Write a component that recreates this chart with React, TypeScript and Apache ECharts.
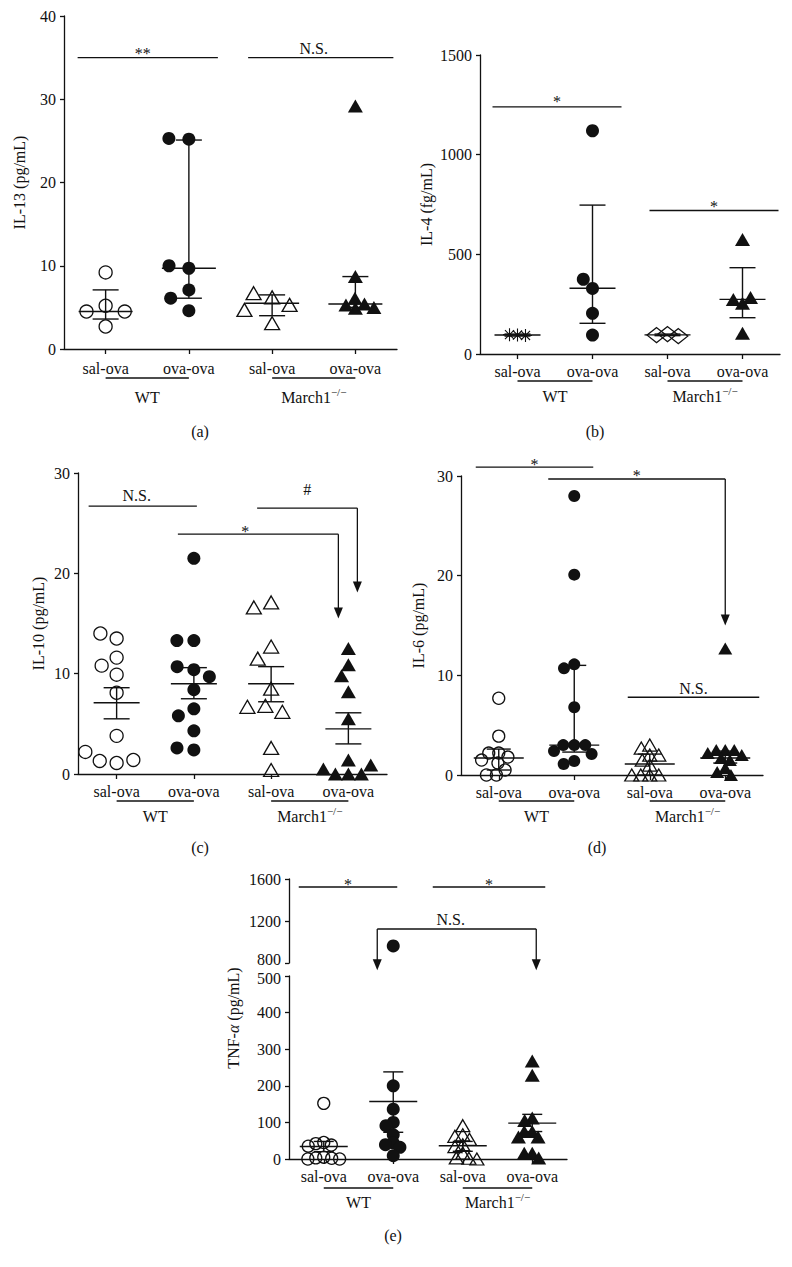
import React, { useEffect, useRef } from "react";
import * as echarts from "echarts";

const INK = "#111111";
const FONT = "'Liberation Serif', 'Times New Roman', serif";
const FS = 16;

const groupLabels = ["sal-ova", "ova-ova", "sal-ova", "ova-ova"];
const wtLabel = "WT";
const koLabel = "March1";
const koSup = "\u2212/\u2212";

// (a) IL-13 (pg/mL)
const il13Ticks = [0, 10, 20, 30, 40];
const il13WtSal = [5.2, 4.5, 4.5, 2.7, 9.2];
const il13WtOva = [25.2, 25.3, 9.7, 10.0, 7.1, 6.1, 4.6];
const il13KoSal = [6.2, 6.7, 5.3, 4.7, 3.1];
const il13KoOva = [29.2, 8.7, 4.9, 6.1, 5.3, 5.4, 5.0];
const il13Mid = [4.5, 9.7, 5.5, 5.4];
const il13Low = [3.6, 6.1, 4.0, 5.0];
const il13High = [7.1, 25.1, 6.5, 8.7];

// (b) IL-4 (fg/mL)
const il4Ticks = [0, 500, 1000, 1500];
const il4WtSal = [95, 97, 93];
const il4WtOva = [1120, 329, 375, 204, 95];
const il4KoSal = [100, 95, 90];
const il4KoOva = [575, 254, 274, 284, 104];
const il4Mid = [95, 330, 96, 274];
const il4Low = [90, 154, 92, 182];
const il4High = [100, 747, 100, 433];

// (c) IL-10 (pg/mL)
const il10Ticks = [0, 10, 20, 30];
const il10WtSal = [13.5, 14.0, 11.6, 10.8, 9.9, 8.1, 3.8, 1.1, 1.3, 1.4, 2.2];
const il10WtOva = [21.5, 13.3, 13.3, 10.4, 10.7, 9.7, 8.4, 6.5, 5.8, 4.3, 2.4, 2.6];
const il10KoSal = [17.1, 16.6, 12.7, 11.5, 8.5, 6.8, 6.2, 6.7, 2.6, 0.4];
const il10KoOva = [12.5, 10.9, 9.8, 8.2, 5.5, 0, 0, 0, 0.5, 0.9, 1.4];
const il10Mid = [7.1, 9.0, 9.0, 4.5];
const il10Low = [5.5, 7.5, 7.2, 3.0];
const il10High = [8.6, 10.6, 10.7, 6.1];

// (d) IL-6 (pg/mL)
const il6Ticks = [0, 10, 20, 30];
const il6WtSal = [7.7, 3.9, 2.2, 2.2, 1.8, 1.5, 1.2, 0.5, 0, 0];
const il6WtOva = [28.0, 20.1, 11.1, 10.7, 6.8, 3.0, 3.0, 3.0, 2.4, 2.1, 1.4, 1.1];
const il6KoSal = [3.0, 2.7, 2.0, 2.0, 1.5, 1.0, 0, 0, 0, 0];
const il6KoOva = [12.7, 2.5, 2.5, 2.5, 2.2, 2.0, 1.7, 1.5, 0.7, 0.3, 0];
const il6Mid = [1.7, 3.0, 1.1, 1.7];
const il6Low = [0.5, 2.3, 0.0, 1.2];
const il6High = [2.6, 11.0, 2.1, 2.4];

// (e) TNF-alpha (pg/mL), broken axis
const tnfTicksLow = [0, 100, 200, 300, 400, 500];
const tnfTicksHigh = [800, 1200, 1600];
const tnfWtSal = [152, 45, 42, 38, 35, 5, 3, 2, 0, 0];
const tnfWtOva = [962, 200, 136, 100, 91, 66, 44, 39, 32, 9];
const tnfKoSal = [91, 66, 62, 54, 39, 34, 16, 3, 2, 0];
const tnfKoOva = [268, 229, 112, 105, 75, 75, 60, 60, 16, 16, 3];
const tnfMid = [34, 157, 36, 98];
const tnfLow = [20, 73, 21, 75];
const tnfHigh = [48, 238, 48, 122];

// significance annotations (category indices, value on the y axis, text)
const il13Sig = [
  { from: 0, to: 1, y: 35, label: "**" },
  { from: 2, to: 3, y: 35, label: "N.S." },
];
const il4Sig = [
  { from: 0, to: 1, y: 1240, label: "*" },
  { from: 2, to: 3, y: 720, label: "*" },
];
const il10Sig = [
  { from: 0, to: 1, y: 26.7, label: "N.S." },
  { from: 2, to: 3, y: 26.5, label: "#", tipTo: 18.1 },
  { from: 1, to: 3, y: 23.9, label: "*", tipTo: 15.5 },
];
const il6Sig = [
  { from: 0, to: 1, y: 30.9, label: "*" },
  { from: 1, to: 3, y: 29.7, label: "*", tipTo: 15.0 },
  { from: 2, to: 3, y: 7.8, label: "N.S." },
];
const tnfSig = [
  { from: 0, to: 1, y: 1524, label: "*" },
  { from: 2, to: 3, y: 1524, label: "*" },
  { from: 1, to: 3, y: 1124, label: "N.S.", tipFrom: 730, tipTo: 730 },
];

// presentation for brackets: [dx1, dx2, text gap, text dx]
const il13SigStyle = [[-28, 29, 4, -5], [-24, 38, 9, -7]];
const il4SigStyle = [[-25, 29, 5, 0], [-18, 36, 4, 0]];
const il10SigStyle = [[-28, 3, 11, -6], [-14, 9, 19, 0], [-16, -10, 3, -13]];
const il6SigStyle = [[-23, 19, 3, 0], [-26, 0, 3, 0], [-22, 34, 9, 0]];
const tnfSigStyle = [[-25, 4, 2, 0], [-30, 13, 2, 0], [-16, 4, 9, -6]];

const STAR_PATH = "path://M5 0L5 10M0 5L10 5M1.5 1.5L8.5 8.5M8.5 1.5L1.5 8.5";

function swarm(values: number[], ppu: number, D: number): number[] {
  const placed: { x: number; y: number }[] = [];
  const out: number[] = [];
  for (const v of values) {
    const y = v * ppu;
    const cands = [0];
    for (const p of placed) {
      const dy = Math.abs(p.y - y);
      if (dy < D) {
        const dx = Math.sqrt(D * D - dy * dy);
        cands.push(p.x - dx, p.x + dx);
      }
    }
    cands.sort((a, b) => Math.abs(a) - Math.abs(b) || a - b);
    let chosen = 0;
    for (const c of cands) {
      if (placed.every((p) => (p.x - c) ** 2 + (p.y - y) ** 2 >= D * D - 0.01)) {
        chosen = c;
        break;
      }
    }
    placed.push({ x: chosen, y });
    out.push(chosen);
  }
  return out;
}

function marker(kind: string, size: number): any {
  const open = { color: "rgba(0,0,0,0)", borderColor: INK, borderWidth: 1.3, opacity: 1 };
  const solid = { color: INK, borderColor: INK, borderWidth: 0, opacity: 1 };
  switch (kind) {
    case "oc":
      return { symbol: "circle", symbolSize: size, itemStyle: open };
    case "fc":
      return { symbol: "circle", symbolSize: size, itemStyle: solid };
    case "ot":
      return { symbol: "triangle", symbolSize: [size + 2, size], itemStyle: open };
    case "ft":
      return { symbol: "triangle", symbolSize: [size + 2, size], itemStyle: solid };
    case "star":
      return { symbol: STAR_PATH, symbolSize: size, itemStyle: { color: "rgba(0,0,0,0)", borderColor: INK, borderWidth: 1.1, opacity: 1 } };
    case "od":
      return { symbol: "diamond", symbolSize: [size + 6, size + 2], itemStyle: open };
  }
  return {};
}

const plain = (v: number) => String(v);

function buildOption() {
  const grid: any[] = [];
  const xAxis: any[] = [];
  const yAxis: any[] = [];
  const series: any[] = [];
  const graphic: any[] = [];

  const axisText = { color: INK, fontFamily: FONT, fontSize: FS };
  const lineSt = { color: INK, width: 1.3 };

  const addAxes = (box: any, ticks: number[], name: string, nameGap: number, showX: boolean, xMargin: number, yLabel?: any) => {
    const gi = grid.length;
    grid.push({ left: box.left, top: box.top, width: box.width, height: box.height, containLabel: false });
    xAxis.push({
      gridIndex: gi,
      type: "category",
      data: groupLabels,
      show: showX,
      boundaryGap: true,
      axisLine: { show: true, onZero: false, lineStyle: lineSt },
      axisTick: { show: true, alignWithLabel: true, length: 5, lineStyle: lineSt },
      axisLabel: { ...axisText, margin: xMargin, interval: 0 },
      splitLine: { show: false },
    });
    yAxis.push({
      gridIndex: gi,
      type: "value",
      min: ticks[0],
      max: ticks[ticks.length - 1],
      interval: ticks[1] - ticks[0],
      name,
      nameLocation: "middle",
      nameGap,
      nameTextStyle: axisText,
      axisLine: { show: true, lineStyle: lineSt },
      axisTick: { show: true, length: 4, lineStyle: lineSt },
      axisLabel: { ...axisText, margin: 8, formatter: plain, ...(yLabel || {}) },
      splitLine: { show: false },
    });
    return gi;
  };

  const addScatter = (gi: number, cat: number, values: number[], kind: string, size: number, ppu: number, D: number) => {
    const offs = swarm(values, ppu, D);
    series.push({
      type: "scatter",
      xAxisIndex: gi,
      yAxisIndex: gi,
      silent: true,
      emphasis: { disabled: true },
      z: 4,
      ...marker(kind, size),
      data: values.map((v, k) => ({ value: [cat, v], symbolOffset: [offs[k], 0] })),
    });
  };

  const addBars = (gi: number, mid: number[], low: number[], high: number[], W: number, C: number) => {
    series.push({
      type: "custom",
      xAxisIndex: gi,
      yAxisIndex: gi,
      clip: false,
      silent: true,
      z: 3,
      itemStyle: { color: INK },
      data: mid.map((m, i) => [i, m, low[i], high[i]]),
      renderItem: (params: any, api: any) => {
        const i = api.value(0);
        const pc = api.coord([i, api.value(1)]);
        const pl = api.coord([i, api.value(2)]);
        const ph = api.coord([i, api.value(3)]);
        const x = pc[0];
        const st = { stroke: INK, lineWidth: 1.4 };
        return {
          type: "group",
          children: [
            { type: "line", shape: { x1: x - W, y1: pc[1], x2: x + W, y2: pc[1] }, style: st },
            { type: "line", shape: { x1: x, y1: pl[1], x2: x, y2: ph[1] }, style: st },
            { type: "line", shape: { x1: x - C, y1: pl[1], x2: x + C, y2: pl[1] }, style: st },
            { type: "line", shape: { x1: x - C, y1: ph[1], x2: x + C, y2: ph[1] }, style: st },
          ],
        };
      },
    });
  };

  const addSig = (gi: number, brs: any[], sty: number[][]) => {
    series.push({
      type: "custom",
      xAxisIndex: gi,
      yAxisIndex: gi,
      clip: false,
      silent: true,
      z: 6,
      itemStyle: { color: INK },
      data: brs.map((b) => [b.from, b.y]),
      renderItem: (params: any, api: any) => {
        const b = brs[params.dataIndex];
        const s = sty[params.dataIndex];
        const p1 = api.coord([b.from, b.y]);
        const p2 = api.coord([b.to, b.y]);
        const x1 = p1[0] + s[0];
        const x2 = p2[0] + s[1];
        const y = p1[1];
        const st = { stroke: INK, lineWidth: 1.3 };
        const ch: any[] = [{ type: "line", shape: { x1, y1: y, x2, y2: y }, style: st }];
        ch.push({
          type: "text",
          x: (x1 + x2) / 2 + s[3],
          y: y - s[2],
          style: { text: b.label, fill: INK, fontFamily: FONT, fontSize: FS, align: "center", verticalAlign: "middle" },
        });
        const arrow = (x: number, tipVal: number) => {
          const ty = api.coord([b.from, tipVal])[1];
          ch.push({ type: "line", shape: { x1: x, y1: y, x2: x, y2: ty - 10 }, style: st });
          ch.push({ type: "polygon", shape: { points: [[x - 4.5, ty - 11], [x + 4.5, ty - 11], [x, ty]] }, style: { fill: INK } });
        };
        if (b.tipFrom != null) arrow(x1, b.tipFrom);
        if (b.tipTo != null) arrow(x2, b.tipTo);
        return { type: "group", children: ch };
      },
    });
  };

  const catX = (box: any, i: number) => box.left + (box.width / 4) * (i + 0.5);
  const addStrain = (box: any, under: number, lab: number) => {
    const yb = box.top + box.height;
    [[0, 1], [2, 3]].forEach(([i, j]) =>
      graphic.push({
        type: "line",
        silent: true,
        shape: { x1: catX(box, i), y1: yb + under, x2: catX(box, j), y2: yb + under },
        style: { stroke: INK, lineWidth: 1.3 },
      })
    );
    graphic.push({
      type: "text",
      silent: true,
      x: (catX(box, 0) + catX(box, 1)) / 2,
      y: yb + lab,
      style: { text: wtLabel, fill: INK, fontFamily: FONT, fontSize: FS, align: "center", verticalAlign: "middle" },
    });
    graphic.push({
      type: "text",
      silent: true,
      x: (catX(box, 2) + catX(box, 3)) / 2,
      y: yb + lab,
      style: {
        text: `{m|${koLabel}}{s|${koSup}}`,
        align: "center",
        verticalAlign: "middle",
        rich: {
          m: { fill: INK, fontFamily: FONT, fontSize: FS, lineHeight: 22 },
          s: { fill: INK, fontFamily: FONT, fontSize: 11, lineHeight: 10, verticalAlign: "top" },
        },
      },
    });
  };
  const addTag = (text: string, x: number, y: number) =>
    graphic.push({
      type: "text",
      silent: true,
      x,
      y,
      style: { text, fill: INK, fontFamily: FONT, fontSize: FS, align: "center", verticalAlign: "middle" },
    });

  const panels = [
    {
      box: { left: 64, top: 16, width: 333, height: 333 }, ticks: il13Ticks, name: "IL-13 (pg/mL)", nameGap: 37, xm: 11,
      sets: [il13WtSal, il13WtOva, il13KoSal, il13KoOva], kinds: ["oc", "fc", "ot", "ft"], spread: [20, 20, 19, 10], size: 13,
      mid: il13Mid, low: il13Low, high: il13High, bar: [27, 13], sig: il13Sig, sigStyle: il13SigStyle,
      under: 29, lab: 48, tag: ["(a)", 200, 431],
    },
    {
      box: { left: 480, top: 55, width: 300, height: 299 }, ticks: il4Ticks, name: "IL-4 (fg/mL)", nameGap: 46, xm: 9,
      sets: [il4WtSal, il4WtOva, il4KoSal, il4KoOva], kinds: ["star", "fc", "od", "ft"], spread: [8, 13, 11, 10], size: 13,
      mid: il4Mid, low: il4Low, high: il4High, bar: [23, 13], sig: il4Sig, sigStyle: il4SigStyle,
      under: 27, lab: 42, tag: ["(b)", 595, 431],
    },
    {
      box: { left: 78, top: 473, width: 309, height: 301 }, ticks: il10Ticks, name: "IL-10 (pg/mL)", nameGap: 32, xm: 9,
      sets: [il10WtSal, il10WtOva, il10KoSal, il10KoOva], kinds: ["oc", "fc", "ot", "ft"], spread: [17, 17, 18, 13], size: 13,
      mid: il10Mid, low: il10Low, high: il10High, bar: [23, 13], sig: il10Sig, sigStyle: il10SigStyle,
      under: 27, lab: 42, tag: ["(c)", 200, 847],
    },
    {
      box: { left: 461, top: 476, width: 302, height: 299 }, ticks: il6Ticks, name: "IL-6 (pg/mL)", nameGap: 35, xm: 9,
      sets: [il6WtSal, il6WtOva, il6KoSal, il6KoOva], kinds: ["oc", "fc", "ot", "ft"], spread: [10, 11, 9, 9], size: 12,
      mid: il6Mid, low: il6Low, high: il6High, bar: [25, 12], sig: il6Sig, sigStyle: il6SigStyle,
      under: 26, lab: 41, tag: ["(d)", 597, 847],
    },
  ];

  panels.forEach((p) => {
    const gi = addAxes(p.box, p.ticks, p.name, p.nameGap, true, p.xm);
    const ppu = p.box.height / (p.ticks[p.ticks.length - 1] - p.ticks[0]);
    addBars(gi, p.mid, p.low, p.high, p.bar[0], p.bar[1]);
    p.sets.forEach((vals, c) => addScatter(gi, c, vals, p.kinds[c], p.size, ppu, p.spread[c]));
    addSig(gi, p.sig, p.sigStyle);
    addStrain(p.box, p.under, p.lab);
    addTag(p.tag[0] as string, p.tag[1] as number, p.tag[2] as number);
  });

  // (e) broken axis: upper and lower grids
  const eHigh = { left: 289, top: 879, width: 278, height: 84 };
  const eLow = { left: 289, top: 976, width: 278, height: 183 };
  const lowMax = tnfTicksLow[tnfTicksLow.length - 1];
  const hiMin = tnfTicksHigh[0];
  const gHi = addAxes(eHigh, tnfTicksHigh, "", 0, false, 9, {
    formatter: (v: number) => (v === hiMin ? `{lo|${v}}` : String(v)),
    rich: { lo: { fontFamily: FONT, fontSize: FS, color: INK, padding: [0, 0, 7, 0] } },
  });
  const gLo = addAxes(eLow, tnfTicksLow, "", 0, true, 9, {
    formatter: (v: number) => (v === lowMax ? `{hi|${v}}` : String(v)),
    rich: { hi: { fontFamily: FONT, fontSize: FS, color: INK, padding: [5, 0, 0, 0] } },
  });
  const ppuE = eLow.height / (lowMax - tnfTicksLow[0]);
  const eSets = [tnfWtSal, tnfWtOva, tnfKoSal, tnfKoOva];
  const eKinds = ["oc", "fc", "ot", "ft"];
  addBars(gLo, tnfMid, tnfLow, tnfHigh, 24, 10);
  eSets.forEach((vals, c) => {
    const lo = vals.filter((v) => v <= lowMax);
    const hi = vals.filter((v) => v >= hiMin);
    addScatter(gLo, c, lo, eKinds[c], c % 2 === 0 ? 12 : 13, ppuE, 8);
    if (hi.length) addScatter(gHi, c, hi, eKinds[c], 13, ppuE, 8);
  });
  addSig(gHi, tnfSig, tnfSigStyle);
  addStrain(eLow, 29, 43);
  addTag("(e)", 393, 1235);
  graphic.push({
    type: "text",
    silent: true,
    x: 233,
    y: 1018,
    rotation: Math.PI / 2,
    style: {
      text: "{n|TNF-}{i|\u03B1}{n| (pg/mL)}",
      align: "center",
      verticalAlign: "middle",
      rich: {
        n: { fill: INK, fontFamily: FONT, fontSize: FS },
        i: { fill: INK, fontFamily: FONT, fontSize: FS, fontStyle: "italic" },
      },
    },
  });

  return {
    animation: false,
    backgroundColor: "#ffffff",
    color: [INK],
    textStyle: { fontFamily: FONT, color: INK },
    grid,
    xAxis,
    yAxis,
    series,
    graphic,
  };
}

export default function App() {
  const ref = useRef<HTMLDivElement>(null);
  useEffect(() => {
    document.body.style.margin = "0";
    const chart = echarts.init(ref.current as HTMLDivElement, null, { renderer: "svg" });
    chart.setOption(buildOption() as any);
    return () => chart.dispose();
  }, []);
  return <div ref={ref} style={{ width: 792, height: 1267, background: "#fff" }} />;
}
